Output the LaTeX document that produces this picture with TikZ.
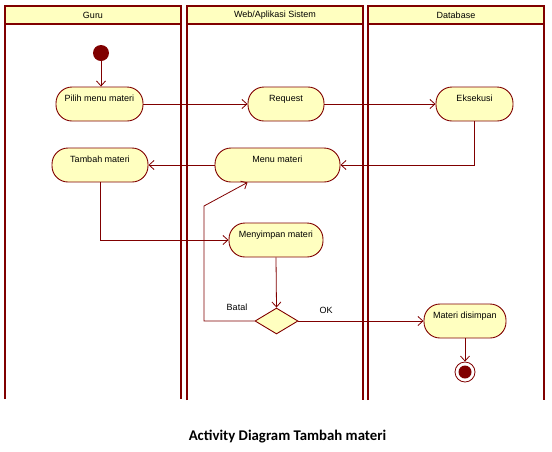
\documentclass[tikz,border=0pt]{standalone}
\usepackage{fontspec}
\newfontfamily\uisf{Liberation Sans}
\newfontfamily\titlef{Carlito}
\usetikzlibrary{arrows.meta,shapes.geometric,calc}
\definecolor{umlred}{RGB}{128,0,0}
\definecolor{umlfill}{RGB}{255,255,192}
\tikzset{
  lane/.style={draw=umlred,line width=2.2pt},
  lanehead/.style={draw=umlred,line width=2.2pt,fill=umlfill},
  headtext/.style={font=\uisf\fontsize{9}{10}\selectfont,text=black},
  act/.style={draw=umlred,fill=umlfill,line width=0.9pt,rounded corners=16pt,minimum height=34pt,
    inner xsep=2pt,inner ysep=0pt,text height=7pt,text depth=12pt,font=\uisf\fontsize{9}{10}\selectfont},
  decis/.style={draw=umlred,fill=umlfill,line width=0.9pt,diamond,minimum width=43pt,minimum height=26pt,inner sep=0pt,aspect=1.65},
  conn/.style={draw=umlred,line width=0.8pt,-{Straight Barb[length=5pt,width=9pt]}},
  lbl/.style={font=\uisf\fontsize{9}{10}\selectfont,inner sep=1pt},
}
\begin{document}
\begin{tikzpicture}[x=1pt,y=-1pt]
\useasboundingbox (0,0) rectangle (552,451);
% swimlanes (open at the bottom)
\draw[lane] (5,399) -- (5,6) -- (181,6) -- (181,399);
\draw[lanehead] (5,6) rectangle (181,24);
\node[headtext] (h1) at (93,15) {Guru};
\draw[lane] (187,400) -- (187,6) -- (363,6) -- (363,400);
\draw[lanehead] (187,6) rectangle (363,24);
\node[headtext] (h2) at (275,15) {Web/Aplikasi Sistem};
\draw[lane] (368,400) -- (368,6) -- (544,6) -- (544,400);
\draw[lanehead] (368,6) rectangle (544,24);
\node[headtext] (h3) at (456,15) {Database};
% nodes
\node[circle,fill=umlred,minimum size=16pt,inner sep=0pt] (start) at (101,53) {};
\node[act,minimum width=87pt] (pilih) at (99.5,104) {Pilih menu materi};
\node[act,minimum width=76pt] (request) at (286,104) {Request};
\node[act,minimum width=77pt] (eks) at (474.5,104) {Eksekusi};
\node[act,minimum width=96pt] (tambah) at (100,165) {Tambah materi};
\node[act,minimum width=125pt] (menu) at (277.5,165) {Menu materi};
\node[act,minimum width=94pt] (simpan) at (276,240) {Menyimpan materi};
\node[decis] (dia) at (276.5,321) {};
\node[act,minimum width=82pt] (disimpan) at (465,321) {Materi disimpan};
\node[circle,draw=umlred,fill=white,line width=0.8pt,minimum size=20pt,inner sep=0pt] (end) at (465,372) {};
\node[circle,fill=umlred,minimum size=13pt,inner sep=0pt] (endin) at (end.center) {};
% connectors
\draw[conn] (start) -- (start |- pilih.north);
\draw[conn] (pilih.east) -- (request.west);
\draw[conn] (request.east) -- (eks.west);
\draw[conn] (eks.south) |- (menu.east);
\draw[conn] (menu.west) -- (tambah.east);
\draw[conn] (tambah.south) |- (simpan.west);
\draw[conn] (simpan.south) -- (dia.north);
\draw[conn] (dia.east) -- (disimpan.west);
\coordinate (b1) at (204,321);
\coordinate (b2) at (204,206);
\draw[conn] (dia.west) -- (b1) -- (b2) -- ([xshift=-30pt]menu.south);
\draw[conn] (disimpan.south) -- (end.north);
% labels
\node[lbl] (batal) at (237,307) {Batal};
\node[lbl] (ok) at (326,310) {OK};
% title
\node[font=\titlef\bfseries\fontsize{14.8}{17}\selectfont] (title) at (287.5,437) {Activity Diagram Tambah materi};
\end{tikzpicture}
\end{document}
